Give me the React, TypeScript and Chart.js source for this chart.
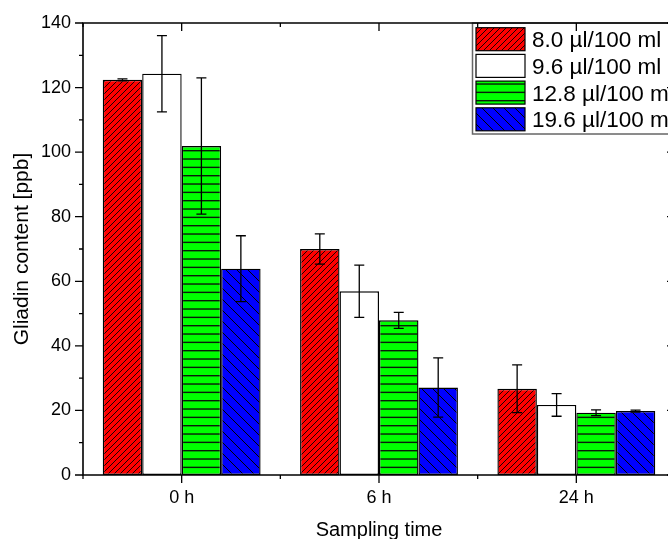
import React, { useEffect, useRef } from "react";
import { Chart, registerables } from "chart.js";

Chart.register(...registerables);

const categories = ["0 h", "6 h", "24 h"];
const seriesLabels = ["8.0 µl/100 ml", "9.6 µl/100 ml", "12.8 µl/100 ml", "19.6 µl/100 ml"];
const values8_0 = [122.4, 70.0, 26.7];
const values9_6 = [124.3, 56.9, 21.7];
const values12_8 = [101.9, 47.9, 19.3];
const values19_6 = [63.9, 27.1, 19.8];
const errors8_0 = [0.3, 4.7, 7.4];
const errors9_6 = [11.8, 8.1, 3.5];
const errors12_8 = [21.1, 2.5, 0.9];
const errors19_6 = [10.2, 9.2, 0.3];
const yMin = 0;
const yMax = 140;
const yStep = 20;
const yMinorStep = 10;

const FONT = "'Liberation Sans', Arial, Helvetica, sans-serif";

function makeTile(kind: string): CanvasPattern | string {
  const c = document.createElement("canvas");
  const ctx = c.getContext("2d");
  if (!ctx) return "#888";
  if (kind === "red") {
    const s = 6;
    c.width = s;
    c.height = s;
    ctx.fillStyle = "#ff0000";
    ctx.fillRect(0, 0, s, s);
    ctx.strokeStyle = "#000";
    ctx.lineWidth = 0.9;
    for (const k of [-s, 0, s]) {
      ctx.beginPath();
      ctx.moveTo(k, s);
      ctx.lineTo(k + s, 0);
      ctx.stroke();
    }
  } else if (kind === "blue") {
    const s = 11;
    c.width = s;
    c.height = s;
    ctx.fillStyle = "#0000ff";
    ctx.fillRect(0, 0, s, s);
    ctx.strokeStyle = "#000";
    ctx.lineWidth = 1;
    for (const k of [-s, 0, s]) {
      ctx.beginPath();
      ctx.moveTo(k, 0);
      ctx.lineTo(k + s, s);
      ctx.stroke();
    }
  } else if (kind === "green") {
    c.width = 4;
    c.height = 25;
    ctx.fillStyle = "#00ff00";
    ctx.fillRect(0, 0, 4, 25);
    ctx.fillStyle = "#0a1a0a";
    for (const y of [0, 8.33, 16.67]) {
      ctx.fillRect(0, y, 4, 1.4);
    }
  } else {
    return "#ffffff";
  }
  const p = ctx.createPattern(c, "repeat");
  return p || "#888";
}

export default function App() {
  const ref = useRef<HTMLCanvasElement | null>(null);

  useEffect(() => {
    const canvas = ref.current;
    if (!canvas) return;
    const fills = [makeTile("red"), makeTile("white"), makeTile("green"), makeTile("blue")];
    const valueSets = [values8_0, values9_6, values12_8, values19_6];
    const errorSets = [errors8_0, errors9_6, errors12_8, errors19_6];

    const errorBars = {
      id: "errorBars",
      afterDatasetsDraw(chart: any) {
        const ctx = chart.ctx;
        const ys = chart.scales.y;
        ctx.save();
        ctx.strokeStyle = "#000";
        ctx.lineWidth = 1.3;
        chart.data.datasets.forEach((ds: any, di: number) => {
          const meta = chart.getDatasetMeta(di);
          meta.data.forEach((el: any, i: number) => {
            const v = valueSets[di][i];
            const e = errorSets[di][i];
            const x = el.x;
            const yt = ys.getPixelForValue(v + e);
            const yb = ys.getPixelForValue(v - e);
            const cw = 5;
            ctx.beginPath();
            ctx.moveTo(x, yt);
            ctx.lineTo(x, yb);
            ctx.moveTo(x - cw, yt);
            ctx.lineTo(x + cw, yt);
            ctx.moveTo(x - cw, yb);
            ctx.lineTo(x + cw, yb);
            ctx.stroke();
          });
        });
        ctx.restore();

        // legend
        const lx = 472.5;
        const ly = 23;
        const lb = 134;
        ctx.save();
        ctx.fillStyle = "#fff";
        ctx.fillRect(lx, ly, 260, lb - ly);
        ctx.strokeStyle = "#666";
        ctx.lineWidth = 1.5;
        ctx.strokeRect(lx, ly, 260, lb - ly);
        ctx.font = `22.5px ${FONT}`;
        ctx.textBaseline = "alphabetic";
        ctx.textAlign = "left";
        seriesLabels.forEach((lab, i) => {
          const top = 27.7 + i * 26.7;
          ctx.fillStyle = fills[i] as any;
          ctx.fillRect(476, top, 49, 23);
          ctx.strokeStyle = "#000";
          ctx.lineWidth = 1.2;
          ctx.strokeRect(476, top, 49, 23);
          ctx.fillStyle = "#000";
          ctx.fillText(lab, 532, top + 19.5);
        });
        ctx.restore();
      },
    };

    const frame = {
      id: "frame",
      afterDraw(chart: any) {
        const ctx = chart.ctx;
        const { left, right, top, bottom } = chart.chartArea;
        const ys = chart.scales.y;
        const xs = chart.scales.x;
        ctx.save();
        ctx.strokeStyle = "#000";
        ctx.lineWidth = 1.6;
        ctx.beginPath();
        ctx.moveTo(left, top);
        ctx.lineTo(right, top);
        ctx.lineTo(right, bottom);
        ctx.lineTo(left, bottom);
        ctx.closePath();
        ctx.stroke();
        ctx.lineWidth = 1.3;
        ctx.beginPath();
        for (let v = yMin; v <= yMax + 1e-9; v += yMinorStep) {
          const y = ys.getPixelForValue(v);
          const major = Math.abs(v / yStep - Math.round(v / yStep)) < 1e-6;
          const len = major ? 8 : 4;
          ctx.moveTo(left - len, y);
          ctx.lineTo(left, y);
          ctx.moveTo(right, y);
          ctx.lineTo(right - len, y);
        }
        const n = categories.length;
        for (let i = 0; i < n; i++) {
          const x = xs.getPixelForValue(i);
          ctx.moveTo(x, bottom);
          ctx.lineTo(x, bottom + 8);
          ctx.moveTo(x, top);
          ctx.lineTo(x, top + 8);
        }
        for (let i = 0; i <= n; i++) {
          const x = xs.getPixelForValue(i - 0.5);
          ctx.moveTo(x, bottom);
          ctx.lineTo(x, bottom + 4);
          ctx.moveTo(x, top);
          ctx.lineTo(x, top + 4);
        }
        ctx.stroke();
        ctx.restore();
      },
    };

    const chart = new Chart(canvas, {
      type: "bar",
      data: {
        labels: categories,
        datasets: seriesLabels.map((lab, i) => ({
          label: lab,
          data: valueSets[i],
          backgroundColor: fills[i] as any,
          borderColor: "#000",
          borderWidth: 1.4,
          borderSkipped: false,
          barPercentage: 1,
          categoryPercentage: 0.8,
        })),
      },
      options: {
        animation: false,
        responsive: false,
        devicePixelRatio: 1,
        layout: { padding: { top: 23, right: 25, bottom: 0, left: 0 } },
        plugins: {
          legend: { display: false },
          tooltip: { enabled: false },
        },
        scales: {
          x: {
            type: "category",
            grid: { display: false },
            border: { display: false },
            ticks: { color: "#000", font: { family: FONT, size: 18 }, padding: 4, maxRotation: 0 },
            title: {
              display: true,
              text: "Sampling time",
              color: "#000",
              font: { family: FONT, size: 20 },
              padding: { top: 0, bottom: -3 },
            },
            afterFit: (s: any) => {
              s.height = 64;
            },
          },
          y: {
            min: yMin,
            max: yMax,
            grid: { display: false },
            border: { display: false },
            ticks: { stepSize: yStep, color: "#000", font: { family: FONT, size: 18 }, padding: 4 },
            title: {
              display: true,
              text: "Gliadin content [ppb]",
              color: "#000",
              font: { family: FONT, size: 21 },
              padding: { top: 10, bottom: 0 },
            },
            afterFit: (s: any) => {
              s.width = 83;
            },
          },
        },
      } as any,
      plugins: [errorBars, frame],
    });
    return () => chart.destroy();
  }, []);

  return (
    <div
      style={{
        position: "fixed",
        left: 0,
        top: 0,
        width: 668,
        height: 539,
        overflow: "hidden",
        background: "#fff",
      }}
    >
      <canvas ref={ref} width={700} height={539} style={{ display: "block" }} />
    </div>
  );
}
